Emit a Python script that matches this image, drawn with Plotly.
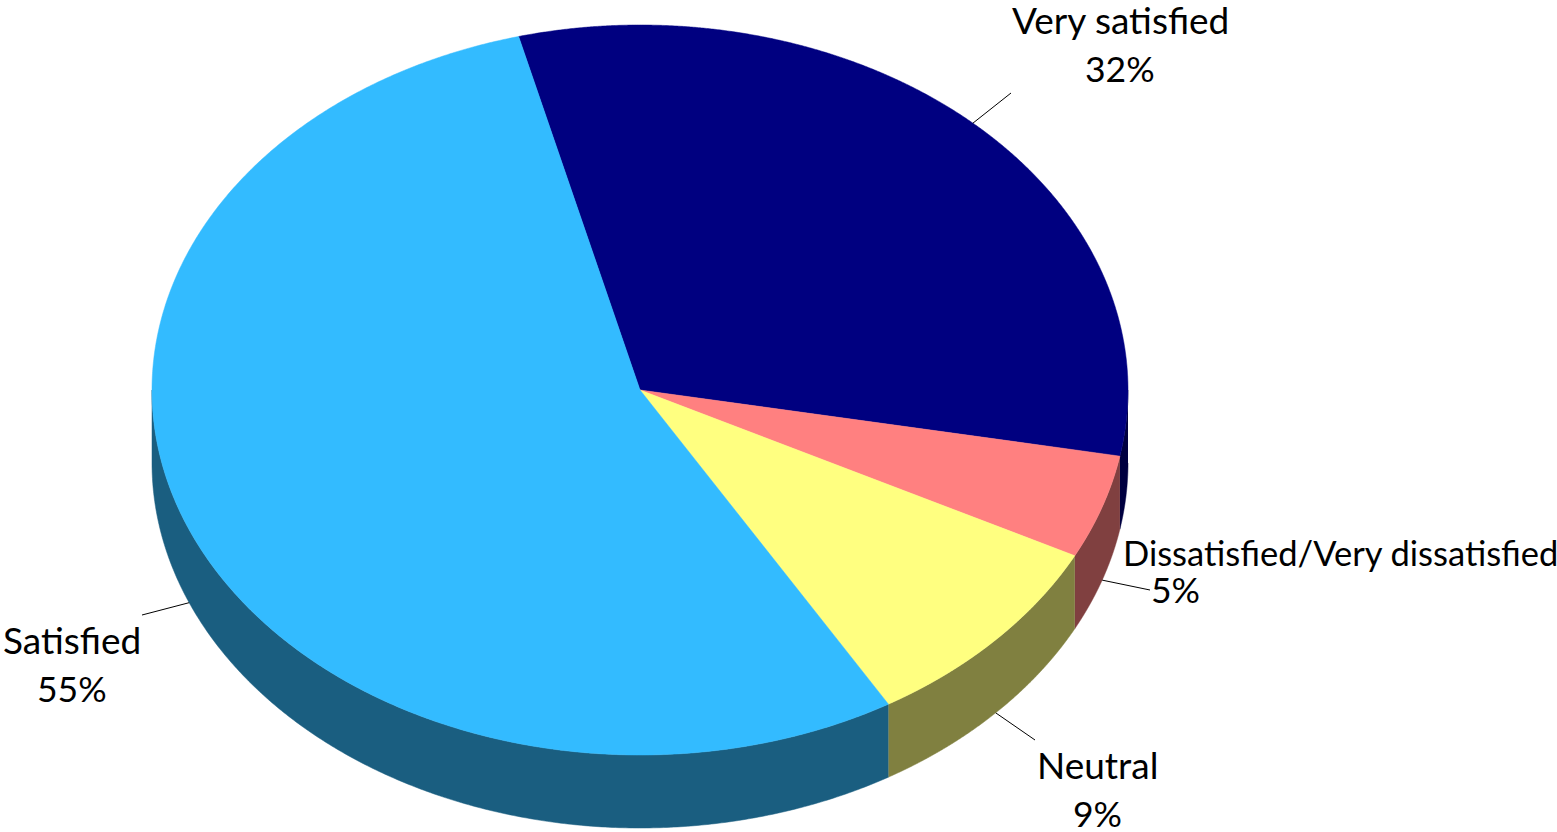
import numpy as np
import plotly.graph_objects as go

categories = ["Very satisfied", "Dissatisfied/Very dissatisfied", "Neutral", "Satisfied"]
values = [31.9, 4.6, 9.0, 54.5]
percent_labels = ["32%", "5%", "9%", "55%"]

top_colors = ["#000080", "#FF8080", "#FFFF80", "#33BBFF"]
side_colors = ["#000040", "#804040", "#808040", "#1A5E80"]

CX, CY, RX, RY, DEPTH = 640, 390, 488, 365, 73
START_ANGLE = -14.4
W, H = 1557, 832
FONT = "Lato, Carlito, Calibri, sans-serif"
NAME_SIZES = [37, 34.5, 37, 37]
PCT_SIZE = 35.5

# label centres (name x,y ; percent x,y) and far end of each leader line
name_pos = [(1120, 19), (1340, 552), (1097, 764), (72, 639)]
pct_pos = [(1120, 68), (1175, 589), (1097, 813), (72, 688)]
leader_end = [(1011, 93), (1150, 590), (1035, 740), (142, 615)]
leader_on_side = [False, True, True, True]


def rim(deg, drop=0.0):
    a = np.radians(deg)
    return CX + RX * np.sin(a), CY - RY * np.cos(a) + drop


fractions = np.array(values) / sum(values) * 360
starts = START_ANGLE + np.concatenate([[0], np.cumsum(fractions)[:-1]])
ends = starts + fractions

fig = go.Figure()


def poly(xs, ys, color, name):
    fig.add_trace(go.Scatter(x=xs, y=ys, mode="lines", fill="toself", fillcolor=color,
                             line=dict(color=color, width=0.5, simplify=False), name=name,
                             hoverinfo="skip", showlegend=False))


# side walls (only the front half of the rim, 90 to 270 degrees, is visible)
for cat, s, e, col in zip(categories, starts, ends, side_colors):
    a0, a1 = max(s, 90), min(e, 270)
    if a1 <= a0:
        continue
    t = np.linspace(a0, a1, 300)
    xt, yt = rim(t)
    xb, yb = rim(t[::-1], DEPTH)
    poly(np.concatenate([xt, xb]), np.concatenate([yt, yb]), col, cat)

# top faces
for cat, s, e, col in zip(categories, starts, ends, top_colors):
    t = np.linspace(s, e, 600)
    xt, yt = rim(t)
    poly(np.concatenate([[CX], xt, [CX]]), np.concatenate([[CY], yt, [CY]]), col, cat)

# leader lines, from the middle of each slice's rim
for cat, s, e, end, side in zip(categories, starts, ends, leader_end, leader_on_side):
    x0, y0 = rim((s + e) / 2, DEPTH if side else 0)
    fig.add_trace(go.Scatter(x=[x0, end[0]], y=[y0, end[1]], mode="lines",
                             line=dict(color="black", width=1), name=cat,
                             hoverinfo="skip", showlegend=False))

annotations = []
for cat, pct, np_, pp, size in zip(categories, percent_labels, name_pos, pct_pos, NAME_SIZES):
    for text, (x, y), fs in ((cat, np_, size), (pct, pp, PCT_SIZE)):
        annotations.append(dict(x=x, y=y, text=text, showarrow=False, xanchor="center",
                                yanchor="middle", font=dict(family=FONT, size=fs, color="black")))

fig.update_layout(
    width=W, height=H, margin=dict(l=0, r=0, t=0, b=0),
    paper_bgcolor="white", plot_bgcolor="white",
    xaxis=dict(range=[0, W], visible=False, fixedrange=True),
    yaxis=dict(range=[H, 0], visible=False, fixedrange=True),
    annotations=annotations, showlegend=False,
)
fig.write_html("out.html", config={"displayModeBar": False},
               post_script="document.body.style.margin='0';document.body.style.overflow='hidden';")
